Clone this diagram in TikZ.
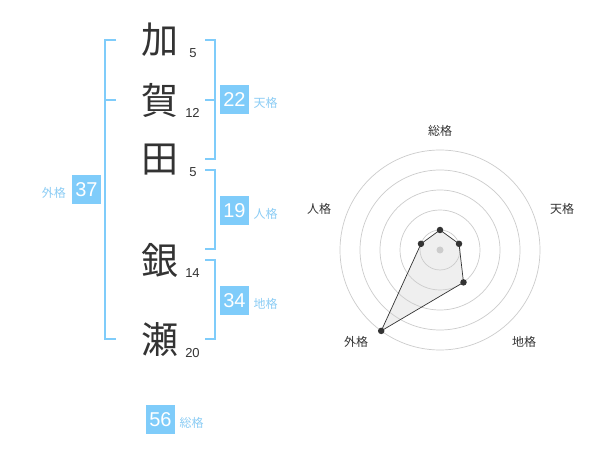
\documentclass[tikz,border=0pt]{standalone}
\usepackage{fontspec}
\setmainfont{Liberation Sans}
\newfontfamily\jp{Noto Sans CJK JP}
\definecolor{boxblue}{RGB}{127,204,250}
\definecolor{lblblue}{RGB}{140,205,245}
\definecolor{ink}{RGB}{51,51,51}
\definecolor{ring}{RGB}{204,204,204}
\begin{document}
\begin{tikzpicture}[x=1pt,y=-1pt,
  kanji/.style={font=\jp\fontsize{37}{37}\selectfont, text=ink, inner sep=0pt},
  stroke/.style={font=\fontsize{13}{13}\selectfont, text=ink, inner sep=0pt},
  valbox/.style={fill=boxblue, text=white, minimum width=29pt, minimum height=29pt, inner sep=0pt, font=\fontsize{20}{20}\selectfont},
  kaku/.style={font=\jp\fontsize{12}{12}\selectfont, text=lblblue, inner sep=0pt},
  br/.style={draw=boxblue, line width=2pt},
  radlbl/.style={font=\jp\fontsize{12}{12}\selectfont, text=ink, inner sep=0pt},
  pt/.style={circle, fill=ink, inner sep=0pt, minimum size=6.5pt},
  ringline/.style={draw=ring, line width=0.7pt}]
\useasboundingbox (0,0) rectangle (600,470);
\fill[white] (0,0) rectangle (600,470);
% name characters
\node[kanji] (k1) at (160,40) {加};
\node[kanji] (k2) at (160,100) {賀};
\node[kanji] (k3) at (160,160) {田};
\node[kanji] (k4) at (160,260) {銀};
\node[kanji] (k5) at (160,340) {瀬};
\node[stroke] (s1) at (193,53) {5};
\node[stroke] (s2) at (192.5,113) {12};
\node[stroke] (s3) at (193,172.5) {5};
\node[stroke] (s4) at (192.5,273) {14};
\node[stroke] (s5) at (192.5,353) {20};
% brackets
\coordinate (lt) at (116,40); \coordinate (lb) at (116,339);
\draw[br] (lt) -- (105,40) -- (105,339) -- (lb);
\draw[br] (105,100) -- (116,100);
\draw[br] (205,40) -- (215,40) -- (215,159) -- (205,159);
\draw[br] (205,100) -- (215,100);
\draw[br] (205,170) -- (215,170) -- (215,249) -- (205,249);
\draw[br] (205,260) -- (215,260) -- (215,339) -- (205,339);
% value boxes
\node[valbox] (ten) at (234.5,100) {22};
\node[kaku, anchor=west] (tenl) at (253.5,103) {天格};
\node[valbox] (jin) at (234.5,210.5) {19};
\node[kaku, anchor=west] (jinl) at (253.5,213.5) {人格};
\node[valbox] (chi) at (234.5,300.5) {34};
\node[kaku, anchor=west] (chil) at (253.5,303.5) {地格};
\node[valbox] (gai) at (86.5,190) {37};
\node[kaku, anchor=east] (gail) at (66,193) {外格};
\node[valbox] (sou) at (160.5,419.5) {56};
\node[kaku, anchor=west] (soul) at (179.5,422.5) {総格};
% radar chart
\coordinate (c) at (440,250);
\coordinate (p1) at (440,230);
\coordinate (p2) at (459.02,243.82);
\coordinate (p3) at (463.51,282.36);
\coordinate (p4) at (381.22,330.90);
\coordinate (p5) at (420.98,243.82);
\fill[gray!20, opacity=0.6] (p1) -- (p2) -- (p3) -- (p4) -- (p5) -- cycle;
\foreach \r in {20,40,60,80,100} \draw[ringline] (c) circle[radius=\r];
\fill[ring] (c) circle[radius=3.5];
\draw[ink, line width=0.7pt] (p1) -- (p2) -- (p3) -- (p4) -- (p5) -- cycle;
\foreach \p in {p1,p2,p3,p4,p5} \node[pt] at (\p) {};
\node[radlbl] (r1) at (440,131) {総格};
\node[radlbl] (r2) at (562,208.5) {天格};
\node[radlbl] (r3) at (319,209) {人格};
\node[radlbl] (r4) at (524,341.5) {地格};
\node[radlbl] (r5) at (356,342) {外格};
\end{tikzpicture}
\end{document}
